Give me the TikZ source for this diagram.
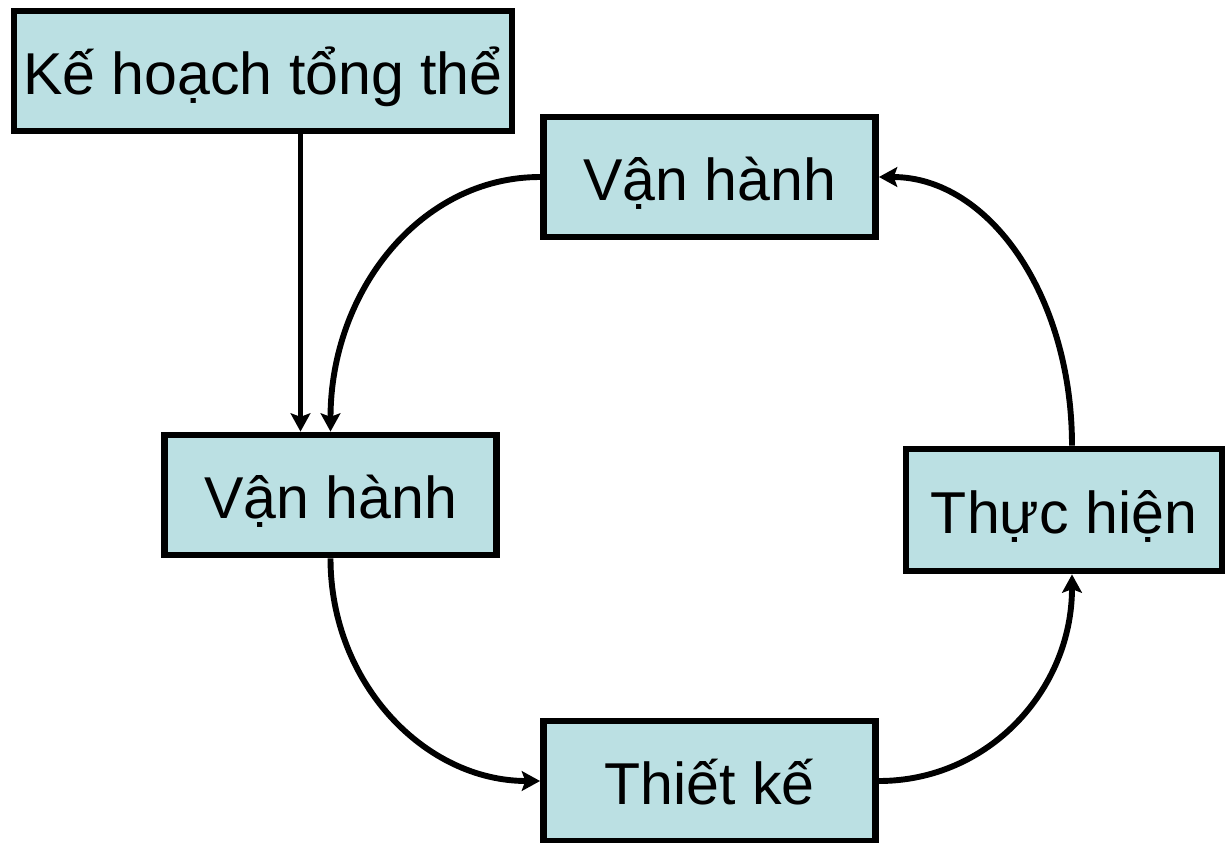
\documentclass[tikz,border=0pt]{standalone}
\usepackage{fontspec}
\setmainfont{Liberation Sans}
\usetikzlibrary{arrows.meta}
\definecolor{boxfill}{RGB}{187,224,227}
\begin{document}
\begin{tikzpicture}[x=0.025cm,y=-0.025cm,
  box/.style={draw=black,line width=4.8pt,fill=boxfill,inner sep=0pt,
    font=\fontsize{42}{50}\selectfont,text height=40pt,text depth=7pt},
  conn/.style={line width=4.2pt,-{Stealth[length=13pt,width=14pt,inset=2.5pt]}}]
\useasboundingbox (0,0) rectangle (1226,843);
\node[box,minimum width=12.45cm,minimum height=3.0cm] (k) at (263,71) {Kế hoạch tổng thể};
\node[box,minimum width=8.3cm,minimum height=3.0cm] (v1) at (709.5,177) {Vận hành};
\node[box,minimum width=8.3cm,minimum height=3.0cm] (v2) at (330.5,495) {Vận hành};
\node[box,minimum width=7.9cm,minimum height=3.05cm] (t) at (1064,510) {Thực hiện};
\node[box,minimum width=8.3cm,minimum height=3.0cm] (tk) at (709.5,781) {Thiết kế};
\draw[conn] ([xshift=-0.75cm]v2.north |- k.south) -- ([xshift=-0.75cm]v2.north);
\draw[conn] (v1.west) .. controls +(-120,0) and +(0,-140) .. (v2.north);
\draw[conn] (v2.south) .. controls +(0,125) and +(-115,0) .. (tk.west);
\draw[conn] (tk.east) .. controls +(110,0) and +(0,115) .. ([xshift=0.2cm]t.south);
\draw[conn] ([xshift=0.2cm]t.north) .. controls +(0,-150) and +(110,0) .. (v1.east);
\end{tikzpicture}
\end{document}
